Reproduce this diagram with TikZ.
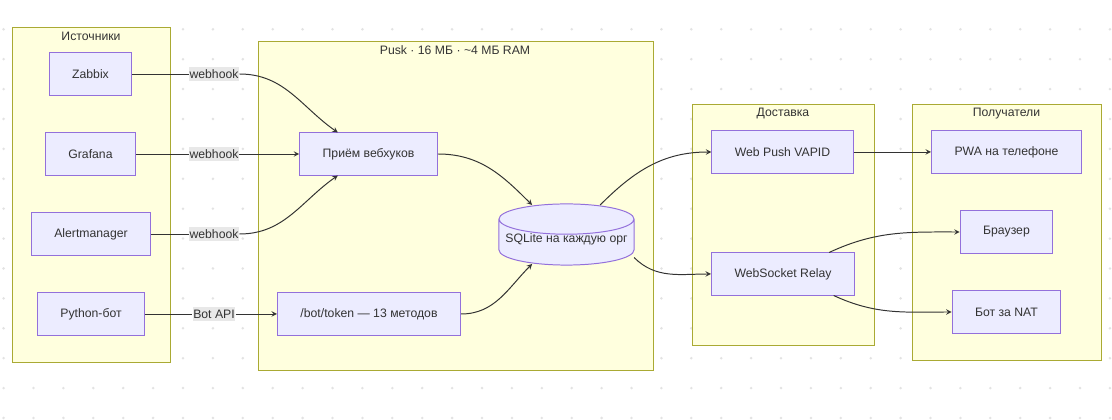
\documentclass[tikz,border=0pt]{standalone}
\usepackage{fontspec}
\setmainfont{Liberation Sans}
\usetikzlibrary{arrows, positioning, shapes.geometric}
\definecolor{clfill}{HTML}{FFFFDE}
\definecolor{clline}{HTML}{AAAA33}
\definecolor{ndfill}{HTML}{ECECFF}
\definecolor{ndline}{HTML}{9370DB}
\definecolor{txt}{HTML}{333333}
\definecolor{lblfill}{HTML}{E8E8E8}
\tikzset{
    >=stealth, % arrow heads
    every node/.style={font=\fontsize{8.7}{10.5}\selectfont, text=txt}, % text of all nodes
    cluster/.style={draw=clline, fill=clfill, line width=0.7pt}, % frames of the groups
    box/.style={draw=ndline, fill=ndfill, line width=0.7pt, minimum height=1.05cm, inner xsep=0.575cm}, % process boxes
    db/.style={cylinder, shape border rotate=90, aspect=0.23, draw=ndline, fill=ndfill, line width=0.7pt, minimum width=3.375cm, minimum height=1.325cm}, % storage
    lbl/.style={fill=lblfill, inner xsep=0.5pt, inner ysep=2pt}, % edge labels
    flow/.style={draw=txt, line width=0.7pt}, % connectors
}
\begin{document}
\begin{tikzpicture}[x=0.025cm, y=0.025cm]
    \useasboundingbox (0,0) rectangle (1112,420);
    \fill[white] (0,0) rectangle (1112,420);
    % dotted background
    \foreach \i in {0,...,37}
        \foreach \j in {1,...,14}
            \fill[gray!22] (3.6+29.9*\i, 420.6-29.9*\j) circle (1.4);
    % groups
    \draw[cluster] (12,58) rectangle (170,393);
    \draw[cluster] (258,50) rectangle (653,379);
    \draw[cluster] (692,75) rectangle (874,316);
    \draw[cluster] (912,60) rectangle (1101,316);
    \node (srcT) at (91,384) {Источники};
    \node (puskT) at (455,370) {Pusk · 16 МБ · \textasciitilde4 МБ RAM};
    \node (dlvT) at (783,306) {Доставка};
    \node (rcvT) at (1006.5,306) {Получатели};
    % sources
    \node[box] (zabbix) at (90.5,346) {Zabbix};
    \node[box] (grafana) at (90.5,266) {Grafana};
    \node[box] (alertm) at (91,186) {Alertmanager};
    \node[box] (pybot) at (91,106) {Python-бот};
    % pusk
    \node[box] (priem) at (368.5,266) {Приём вебхуков};
    \node[box] (bottok) at (369,106) {/bot/token — 13 методов};
    \node[db, anchor=shape center] (sqlite) at (566.5,185.5) {\raisebox{4pt}[\height][\depth]{SQLite на каждую орг}};
    % delivery
    \node[box] (webpush) at (782.5,268) {Web Push VAPID};
    \node[box] (wsrelay) at (783,146) {WebSocket Relay};
    % receivers
    \node[box] (pwa) at (1006.5,268) {PWA на телефоне};
    \node[box] (browser) at (1006.5,188) {Браузер};
    \node[box] (botnat) at (1006.5,108) {Бот за NAT};
    % edge labels
    \node[lbl] (wh1) at (214,346) {webhook};
    \node[lbl] (wh2) at (214,266) {webhook};
    \node[lbl] (wh3) at (214,186) {webhook};
    \node[lbl] (api) at (214,106) {Bot API};
    % connectors
    \draw[flow] (zabbix) -- (wh1);
    \draw[flow, ->] (wh1) to[out=0, in=145] (priem.145);
    \draw[flow] (grafana) -- (wh2);
    \draw[flow, ->] (wh2) -- (priem);
    \draw[flow] (alertm) -- (wh3);
    \draw[flow, ->] (wh3) to[out=0, in=215] (priem.215);
    \draw[flow] (pybot) -- (api);
    \draw[flow, ->] (api) -- (bottok);
    \draw[flow, ->] (priem) to[out=0, in=135] ([xshift=-0.86cm, yshift=-0.04cm]sqlite.north);
    \draw[flow, ->] (bottok) to[out=0, in=225] ([xshift=-0.86cm, yshift=0.04cm]sqlite.south);
    \draw[flow, ->] ([xshift=0.84cm, yshift=-0.04cm]sqlite.north) to[out=45, in=180] (webpush);
    \draw[flow, ->] ([xshift=1.69cm, yshift=0.2cm]sqlite.south) to[out=-45, in=180] (wsrelay);
    \draw[flow, ->] (webpush) -- (pwa);
    \draw[flow, ->] (wsrelay.25) to[out=25, in=180] (browser);
    \draw[flow, ->] (wsrelay.337) to[out=-25, in=180] (botnat);
\end{tikzpicture}
\end{document}
